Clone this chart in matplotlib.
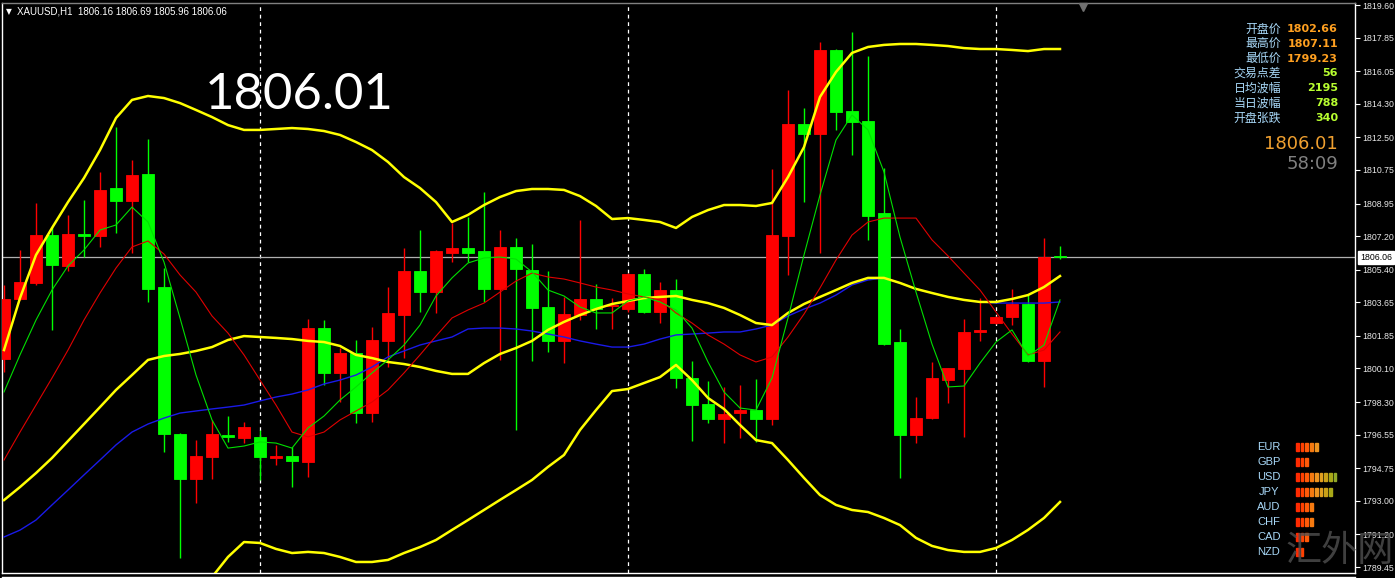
import matplotlib
matplotlib.use("Agg")
import matplotlib.pyplot as plt
from matplotlib.lines import Line2D
import numpy as np

# ---------------- data ----------------
symbol_header = "XAUUSD,H1  1806.16 1806.69 1805.96 1806.06"
big_price = "1806.01"
current_price = 1806.06

opens = [1800.61, 1803.83, 1804.69, 1807.26, 1805.60, 1807.30, 1807.21, 1809.78, 1809.09, 1810.53,
         1804.47, 1796.59, 1794.17, 1795.35, 1796.53, 1796.37, 1796.43, 1795.30, 1795.41, 1795.08,
         1802.27, 1799.86, 1800.93, 1797.71, 1801.58, 1802.97, 1805.33, 1804.20, 1806.30, 1806.57,
         1806.40, 1804.37, 1806.62, 1805.38, 1803.40, 1801.58, 1802.97, 1803.83, 1803.45, 1803.29,
         1805.17, 1803.13, 1804.31, 1799.59, 1798.20, 1797.39, 1797.71, 1797.87, 1797.39, 1807.21,
         1813.22, 1812.68, 1817.19, 1813.91, 1813.38, 1808.44, 1801.52, 1796.53, 1797.44, 1799.48,
         1800.07, 1802.08, 1802.54, 1802.86, 1803.56, 1800.50, 1806.16]
highs = [1804.58, 1806.46, 1808.98, 1807.69, 1808.34, 1809.14, 1810.64, 1813.06, 1811.29, 1812.41,
         1805.49, 1796.65, 1796.26, 1797.34, 1797.55, 1797.23, 1796.80, 1796.00, 1795.89, 1802.76,
         1802.70, 1801.20, 1801.63, 1802.33, 1804.47, 1806.56, 1807.53, 1806.45, 1807.91, 1808.23,
         1809.57, 1807.53, 1807.10, 1806.78, 1805.33, 1803.94, 1808.07, 1804.63, 1803.88, 1805.22,
         1805.44, 1804.74, 1804.90, 1800.50, 1799.43, 1799.11, 1799.22, 1799.54, 1810.80, 1815.04,
         1814.08, 1817.62, 1817.25, 1818.15, 1816.87, 1810.86, 1802.22, 1798.57, 1800.45, 1800.15,
         1802.76, 1803.88, 1802.90, 1804.37, 1804.04, 1807.10, 1806.69]
lows = [1799.91, 1803.78, 1804.60, 1802.17, 1805.33, 1806.08, 1806.62, 1807.37, 1806.30, 1803.67,
        1795.62, 1789.93, 1792.88, 1794.17, 1796.16, 1796.10, 1794.12, 1794.92, 1793.74, 1794.28,
        1799.21, 1798.30, 1797.18, 1797.23, 1800.18, 1800.66, 1803.13, 1803.08, 1805.81, 1805.81,
        1803.67, 1800.56, 1796.80, 1800.50, 1800.99, 1800.39, 1802.70, 1802.22, 1802.22, 1803.15,
        1803.10, 1802.54, 1799.05, 1796.21, 1797.18, 1796.10, 1796.37, 1796.16, 1797.07, 1805.12,
        1809.03, 1806.30, 1812.90, 1811.55, 1807.00, 1801.35, 1794.23, 1796.10, 1797.40, 1798.25,
        1796.43, 1801.58, 1802.50, 1802.43, 1800.45, 1799.11, 1805.96]
closes = [1803.83, 1804.74, 1807.26, 1805.65, 1807.32, 1807.22, 1809.68, 1809.09, 1810.48, 1804.37,
          1796.59, 1794.17, 1795.41, 1796.59, 1796.43, 1796.96, 1795.35, 1795.38, 1795.14, 1802.27,
          1799.86, 1800.93, 1797.71, 1801.63, 1803.08, 1805.33, 1804.20, 1806.40, 1806.57, 1806.30,
          1804.37, 1806.62, 1805.44, 1803.35, 1801.58, 1803.02, 1803.83, 1803.29, 1803.52, 1805.17,
          1803.13, 1804.31, 1799.59, 1798.14, 1797.39, 1797.66, 1797.87, 1797.39, 1807.26, 1813.22,
          1812.68, 1817.19, 1813.86, 1813.33, 1808.28, 1801.41, 1796.53, 1797.44, 1799.59, 1800.13,
          1802.06, 1802.14, 1802.86, 1803.56, 1800.50, 1806.08, 1806.06]

bb_upper = [1801.09, 1803.88, 1806.19, 1807.64, 1809.03, 1810.32, 1811.82, 1813.54, 1814.51, 1814.72,
            1814.61, 1814.34, 1813.97, 1813.59, 1813.16, 1812.90, 1812.90, 1812.95, 1813.00, 1812.95,
            1812.84, 1812.63, 1812.25, 1811.82, 1811.18, 1810.37, 1809.78, 1809.03, 1807.96, 1808.34,
            1808.87, 1809.30, 1809.62, 1809.73, 1809.73, 1809.68, 1809.35, 1808.82, 1808.12, 1808.17,
            1808.07, 1807.96, 1807.64, 1808.23, 1808.60, 1808.87, 1808.87, 1808.82, 1808.98, 1810.37,
            1811.98, 1814.67, 1816.01, 1817.03, 1817.35, 1817.46, 1817.51, 1817.51, 1817.46, 1817.40,
            1817.29, 1817.24, 1817.24, 1817.19, 1817.13, 1817.24, 1817.24]
bb_middle = [1793.04, 1793.74, 1794.49, 1795.30, 1796.21, 1797.12, 1798.03, 1798.95, 1799.75, 1800.56,
             1800.77, 1800.88, 1801.04, 1801.25, 1801.63, 1801.84, 1801.79, 1801.74, 1801.68, 1801.58,
             1801.52, 1801.31, 1800.83, 1800.66, 1800.45, 1800.34, 1800.18, 1799.97, 1799.81, 1799.81,
             1800.39, 1800.88, 1801.20, 1801.58, 1802.17, 1802.60, 1802.97, 1803.29, 1803.56, 1803.72,
             1803.88, 1803.94, 1803.99, 1803.78, 1803.61, 1803.35, 1802.97, 1802.54, 1802.43, 1803.08,
             1803.56, 1803.94, 1804.31, 1804.69, 1804.96, 1804.96, 1804.69, 1804.37, 1804.15, 1803.94,
             1803.78, 1803.67, 1803.67, 1803.83, 1804.04, 1804.47, 1805.06]
bb_lower = [1785.00, 1784.19, 1783.82, 1783.66, 1783.66, 1783.92, 1784.25, 1784.46, 1785.00, 1786.39,
            1786.93, 1787.41, 1788.11, 1788.91, 1789.99, 1790.79, 1790.74, 1790.42, 1790.20, 1790.26,
            1790.20, 1789.99, 1789.72, 1789.72, 1789.83, 1790.20, 1790.52, 1790.90, 1791.44, 1791.97,
            1792.51, 1793.05, 1793.58, 1794.12, 1794.82, 1795.46, 1796.80, 1797.87, 1798.89, 1799.00,
            1799.32, 1799.64, 1800.29, 1799.48, 1798.52, 1797.93, 1797.07, 1796.26, 1796.10, 1795.19,
            1794.23, 1793.31, 1792.78, 1792.51, 1792.40, 1792.08, 1791.70, 1791.01, 1790.58, 1790.36,
            1790.26, 1790.26, 1790.47, 1790.90, 1791.44, 1792.08, 1792.94]
ma_blue = [1791.06, 1791.43, 1791.97, 1792.78, 1793.58, 1794.39, 1795.19, 1796.00, 1796.69, 1797.12,
           1797.44, 1797.71, 1797.82, 1797.93, 1798.03, 1798.14, 1798.36, 1798.57, 1798.73, 1798.95,
           1799.27, 1799.48, 1799.75, 1800.18, 1800.72, 1801.04, 1801.36, 1801.58, 1801.79, 1802.22,
           1802.27, 1802.27, 1802.22, 1802.11, 1801.95, 1801.79, 1801.58, 1801.41, 1801.25, 1801.25,
           1801.41, 1801.68, 1801.90, 1801.95, 1802.00, 1802.06, 1802.06, 1802.22, 1802.43, 1802.92,
           1803.29, 1803.61, 1804.04, 1804.58, 1804.85, 1804.96, 1804.69, 1804.37, 1804.15, 1803.94,
           1803.78, 1803.67, 1803.61, 1803.61, 1803.61, 1803.61, 1803.67]
ma_red = [1795.19, 1796.69, 1798.14, 1799.59, 1801.09, 1802.70, 1804.15, 1805.49, 1806.62, 1806.94,
          1806.24, 1805.12, 1804.20, 1802.92, 1802.00, 1800.83, 1799.48, 1798.14, 1796.69, 1796.43,
          1796.69, 1797.34, 1797.82, 1798.30, 1798.95, 1799.86, 1800.83, 1801.84, 1802.81, 1803.24,
          1803.61, 1804.20, 1804.79, 1805.22, 1805.01, 1804.90, 1804.69, 1804.47, 1804.31, 1804.10,
          1803.94, 1803.78, 1803.08, 1802.54, 1801.90, 1801.41, 1800.83, 1800.45, 1800.72, 1801.79,
          1803.02, 1804.42, 1805.92, 1807.26, 1807.96, 1808.17, 1808.17, 1808.17, 1807.00, 1806.14,
          1805.22, 1804.31, 1803.13, 1801.95, 1800.83, 1801.09, 1802.06]
ma_green = [1798.84, 1800.83, 1802.70, 1804.31, 1805.60, 1806.46, 1807.53, 1807.80, 1808.76, 1807.96,
            1805.81, 1802.81, 1799.75, 1797.34, 1795.83, 1795.94, 1796.16, 1796.10, 1795.83, 1796.91,
            1797.55, 1798.41, 1799.11, 1799.86, 1800.56, 1801.36, 1802.43, 1803.99, 1804.96, 1805.76,
            1806.03, 1806.08, 1805.97, 1805.28, 1804.31, 1803.99, 1803.40, 1803.08, 1803.08, 1803.72,
            1803.94, 1803.67, 1803.24, 1802.27, 1800.45, 1798.84, 1797.98, 1797.87, 1799.59, 1802.81,
            1806.19, 1809.41, 1812.36, 1813.70, 1812.90, 1810.64, 1807.15, 1804.20, 1801.41, 1799.11,
            1799.16, 1800.39, 1801.52, 1802.17, 1800.77, 1801.36, 1803.78]

day_separator_bars = [16, 39, 62]

price_ticks = [1819.60, 1817.85, 1816.05, 1814.30, 1812.50, 1810.75, 1808.95, 1807.20, 1805.40,
               1803.65, 1801.85, 1800.10, 1798.30, 1796.55, 1794.75, 1793.00, 1791.20, 1789.45]

info_labels = ["开盘价", "最高价", "最低价", "交易点差", "日均波幅", "当日波幅", "开盘张跌"]
info_values = ["1802.66", "1807.11", "1799.23", "56", "2195", "788", "340"]
clock_text = "58:09"

currencies = ["EUR", "GBP", "USD", "JPY", "AUD", "CHF", "CAD", "NZD"]
strength = [5, 3, 9, 8, 4, 4, 3, 2]

# ---------------- figure ----------------
W, H = 1395, 578
fig = plt.figure(figsize=(W / 100, H / 100), dpi=100, facecolor="black")

def fx(px):
    return px / W

def fy(py):
    return 1 - py / H

ax_left, ax_right, ax_top, ax_bottom = 2, 1355, 3, 573
ax = fig.add_axes([fx(ax_left), fy(ax_bottom), fx(ax_right - ax_left), (ax_bottom - ax_top) / H])
ax.set_facecolor("black")

n = len(opens)
x = np.arange(n)
o = np.array(opens); c = np.array(closes); h = np.array(highs); l = np.array(lows)
up = c >= o
cols = np.where(up, "#FF0000", "#00FF00")

# wicks
ax.vlines(x, l, h, colors=cols, linewidth=1.0, zorder=3)
# bodies
body_bottom = np.minimum(o, c)
body_h = np.maximum(np.abs(c - o), 0.06)
ax.bar(x, body_h, bottom=body_bottom, width=0.69, color=cols, edgecolor=cols, linewidth=0.6, zorder=4)

# indicator lines
ax.plot(x, bb_upper, color="#FFFF00", lw=1.8, zorder=5)
ax.plot(x, bb_lower, color="#FFFF00", lw=1.8, zorder=5)
ax.plot(x, ma_blue, color="#1a1aE8", lw=1.0, zorder=5)
ax.plot(x, bb_middle, color="#FFFF00", lw=1.8, zorder=5)
ax.plot(x, ma_red, color="#E00000", lw=0.8, zorder=6)
ax.plot(x, ma_green, color="#00E000", lw=0.8, zorder=6)

# day separators
for b in day_separator_bars:
    ax.axvline(b, color="white", lw=0.9, ls=(0, (3, 3)), zorder=2)

# current price line
ax.axhline(current_price, color="#B0B0B0", lw=0.9, zorder=2)

# limits: bar i at pixel 4 + 16 i
ax.set_xlim((ax_left - 4) / 16, (ax_right - 4) / 16)
ax.set_ylim(1819.87 - 0.05365 * ax_bottom, 1819.87 - 0.05365 * ax_top)

for s in ax.spines.values():
    s.set_color("white")
    s.set_linewidth(1.0)
ax.spines["top"].set_color("#808080")
ax.set_xticks([])
ax.yaxis.tick_right()
ax.set_yticks(price_ticks)
ax.set_yticklabels([f"{t:.2f}" for t in price_ticks])
ax.tick_params(axis="y", colors="white", length=3.5, width=0.8, pad=1.5,
               labelsize=6.3, labelcolor="#E8E8E8")
for lab in ax.get_yticklabels():
    lab.set_fontfamily("Liberation Sans")

# current price box on the axis
ax.annotate(f"{current_price:.2f}", xy=(1.0, current_price), xycoords=("axes fraction", "data"),
            xytext=(3.5, 0), textcoords="offset points", ha="left", va="center",
            fontsize=6.3, family="Liberation Sans", color="black",
            bbox=dict(boxstyle="square,pad=0.2", fc="white", ec="white"), zorder=10,
            annotation_clip=False)

# second line at bottom (sub-window border)
fig.add_artist(Line2D([fx(2), fx(1355)], [fy(576.5), fy(576.5)], color="white", lw=1.0))

# header
fig.text(fx(6), fy(12), "▼", color="white", fontsize=5.5, family="DejaVu Sans", va="center")
fig.text(fx(17), fy(12), symbol_header, color="white", fontsize=7, family="Liberation Sans", va="center")

# shift marker triangle
ax.plot([(1083 - 4) / 16], [1819.87 - 0.05365 * 7], marker="v", color="#707070", ms=6,
        clip_on=False, zorder=7)

# big price text
fig.text(fx(205), fy(95), big_price, color="white", fontsize=36.5, family="Lato", va="center", ha="left")

# info panel
cjk = ["Noto Sans CJK SC", "DejaVu Sans"]
for i, (lab, val) in enumerate(zip(info_labels, info_values)):
    py = 29 + i * 14.8
    fig.text(fx(1281), fy(py), lab, color="#A8D8F8", fontsize=8.6, family=cjk, ha="right", va="center")
    vcol = "#FFA020" if i < 3 else "#B8FF30"
    fig.text(fx(1338), fy(py), val, color=vcol, fontsize=8, family="DejaVu Sans",
             fontweight="bold", ha="right", va="center")
fig.text(fx(1338), fy(144), big_price, color="#F0A030", fontsize=13, family="DejaVu Sans",
         ha="right", va="center")
fig.text(fx(1338), fy(164), clock_text, color="#808080", fontsize=13, family="DejaVu Sans",
         ha="right", va="center")

# currency strength panel
bar_colors = ["#FF2A00", "#FF4000", "#FF5A08", "#F57A10", "#EE9420", "#E0A020", "#C8A018", "#A8A818", "#90A828"]
for i, (cur, s) in enumerate(zip(currencies, strength)):
    py = 447 + i * 15
    fig.text(fx(1269), fy(py), cur, color="#A8D8F8", fontsize=8, family="Liberation Sans",
             ha="center", va="center")
    for k in range(s):
        px0 = 1296 + k * 4.7
        fig.add_artist(plt.Rectangle((fx(px0), fy(py + 4)), fx(2.7), 8 / H, color=bar_colors[k],
                                     transform=fig.transFigure))

# watermark
fig.text(fx(1340), fy(551), "汇外网", color="#505050", fontsize=26, family=cjk,
         ha="center", va="center", alpha=0.8, fontweight="light")

fig.savefig("out.png", dpi=100, facecolor="black")
